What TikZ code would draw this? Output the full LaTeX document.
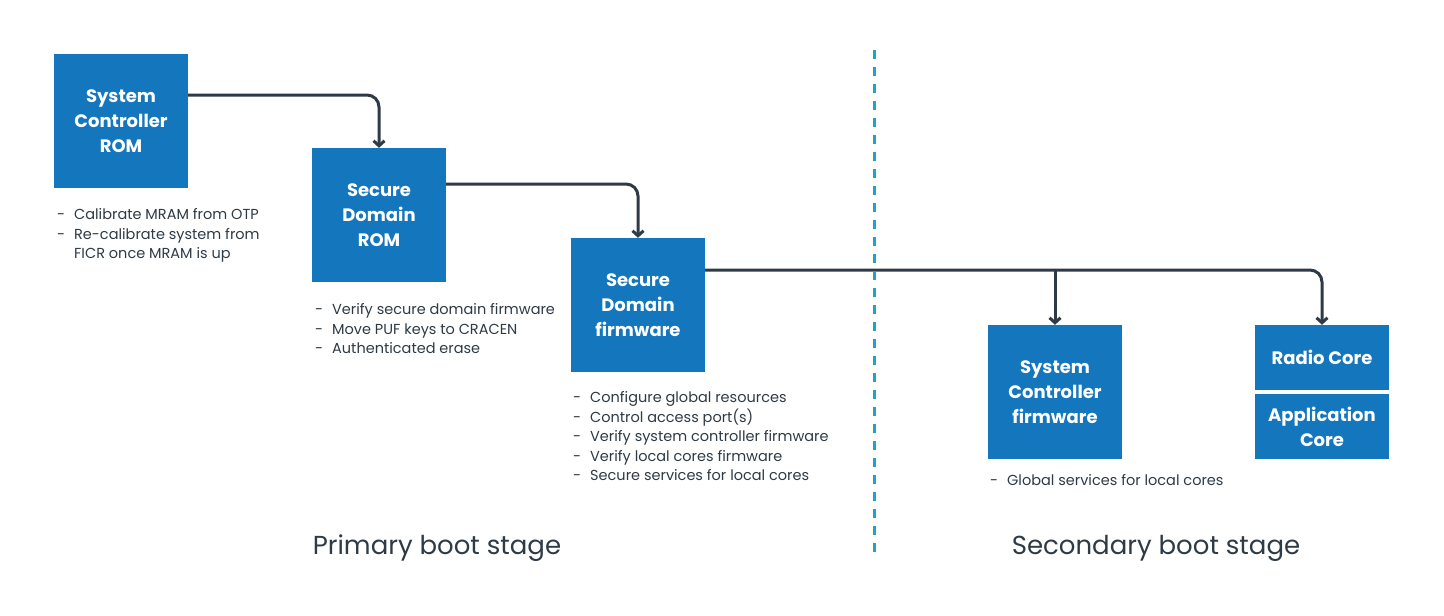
\documentclass[tikz,border=0pt]{standalone}
\usepackage{fontspec}
\setmainfont{Poppins}
\usetikzlibrary{arrows.meta,positioning}
\definecolor{nordicblue}{RGB}{20,118,188}
\definecolor{slate}{RGB}{46,58,70}
\definecolor{lakeblue}{RGB}{27,166,196}
\tikzset{
  stagebox/.style={fill=nordicblue, text=white, align=center, inner sep=0pt,
    font=\bfseries\fontsize{18}{25}\selectfont, minimum width=134pt, minimum height=134pt},
  corebox/.style={stagebox, minimum height=65pt},
  notes/.style={text=slate, anchor=north west, inner sep=0pt, font=\fontsize{14.5}{19.5}\selectfont},
  stagelabel/.style={text=slate, font=\fontsize{26}{30}\selectfont},
  flow/.style={draw=slate, line width=3pt, rounded corners=12pt, -{Straight Barb[length=5pt,width=11pt]}},
}
\begin{document}
\begin{tikzpicture}[x=1pt, y=-1pt]
            \useasboundingbox (0,0) rectangle (1444,616);
            % Primary boot stage
            \node[stagebox] (scr) at ( 121,121) {System\\Controller\\ROM};
            \node[stagebox] (sdr) at ( 379,215) {Secure\\Domain\\ROM};
            \node[stagebox] (sdf) at ( 638,305) {Secure\\Domain\\firmware};
            % Secondary boot stage
            \node[stagebox] (scf)   at (1055,392)   {System\\Controller\\firmware};
            \node[corebox]  (radio) at (1322,357.5) {Radio Core};
            \node[corebox]  (app)   [below=4pt of radio] {Application\\Core};
            % Tasks
            \node[notes] (scrnotes) at ( 57,206) {\begin{tabular}{@{}l@{\hspace{9pt}}l@{}}
              - & Calibrate MRAM from OTP\\
              - & Re-calibrate system from\\
                & FICR once MRAM is up\end{tabular}};
            \node[notes] (sdrnotes) at (315,301) {\begin{tabular}{@{}l@{\hspace{9pt}}l@{}}
              - & Verify secure domain firmware\\
              - & Move PUF keys to CRACEN\\
              - & Authenticated erase\end{tabular}};
            \node[notes] (sdfnotes) at (573,389) {\begin{tabular}{@{}l@{\hspace{9pt}}l@{}}
              - & Configure global resources\\
              - & Control access port(s)\\
              - & Verify system controller firmware\\
              - & Verify local cores firmware\\
              - & Secure services for local cores\end{tabular}};
            \node[notes] (scfnotes) at (990,472) {\begin{tabular}{@{}l@{\hspace{9pt}}l@{}}
              - & Global services for local cores\end{tabular}};
            % Connectors
            \coordinate (sdfout) at ([yshift=35pt]sdf.east);
            \draw[flow] ([yshift=26pt]scr.east) -| (sdr.north);
            \draw[flow] ([yshift=31pt]sdr.east) -| (sdf.north);
            \draw[flow] (sdfout) -| (radio.north);
            \draw[flow] (sdfout -| scf.north) -- (scf.north);
            % Stage divider
            \draw[lakeblue, line width=3pt, dash pattern=on 9pt off 8pt] (874,50) -- (874,556);
            \node[stagelabel] (primary)   at ( 437,548) {Primary boot stage};
            \node[stagelabel] (secondary) at (1156,548) {Secondary boot stage};
\end{tikzpicture}
\end{document}
